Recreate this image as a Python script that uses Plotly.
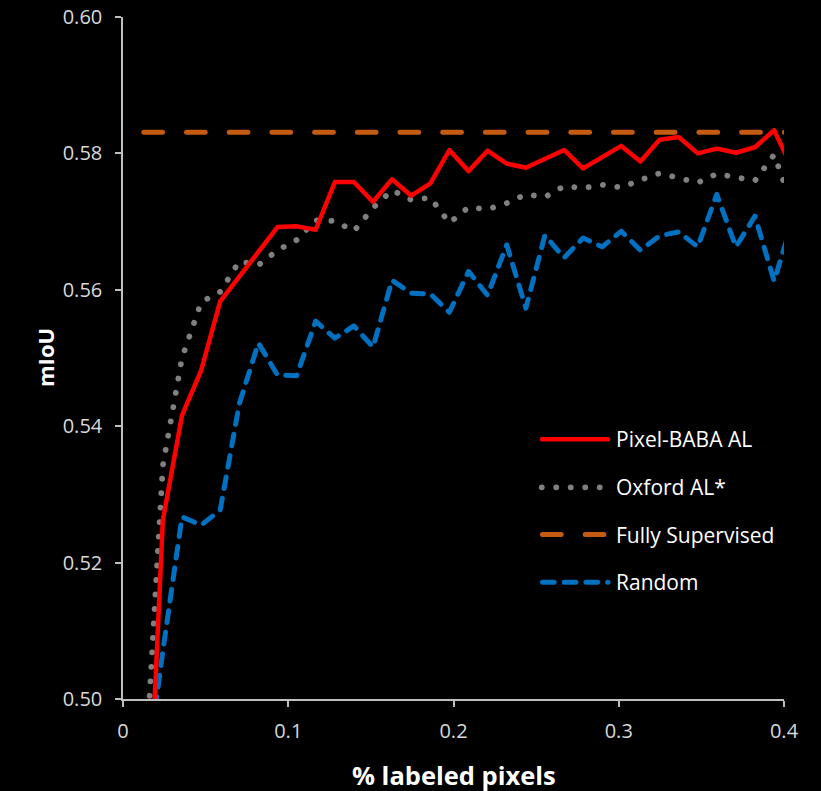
import plotly.graph_objects as go

# ---- data ----
x_frac = [0.0126, 0.0241, 0.0357, 0.0473, 0.0588, 0.0704, 0.0819, 0.0935, 0.1051, 0.1166,
          0.1282, 0.1397, 0.1513, 0.1628, 0.1744, 0.1860, 0.1975, 0.2091, 0.2206, 0.2322,
          0.2438, 0.2553, 0.2669, 0.2784, 0.2900, 0.3015, 0.3131, 0.3247, 0.3362, 0.3478,
          0.3593, 0.3709, 0.3824, 0.3940, 0.4056]

pixel_baba = [0.465, 0.5262, 0.5416, 0.5482, 0.5583, 0.5620, 0.5657, 0.5692, 0.5693, 0.5688,
              0.5758, 0.5758, 0.5729, 0.5762, 0.5738, 0.5756, 0.5805, 0.5774, 0.5804, 0.5785,
              0.5779, 0.5792, 0.5805, 0.5778, 0.5794, 0.5811, 0.5788, 0.5820, 0.5824, 0.5800,
              0.5807, 0.5801, 0.5809, 0.5834, 0.5775]

oxford = [0.4856, 0.5342, 0.5500, 0.5582, 0.5597, 0.5642, 0.5636, 0.5658, 0.5673, 0.5702,
          0.5701, 0.5686, 0.5720, 0.5746, 0.5732, 0.5735, 0.5698, 0.5721, 0.5718, 0.5727,
          0.5740, 0.5736, 0.5752, 0.5749, 0.5754, 0.5750, 0.5761, 0.5771, 0.5764, 0.5757,
          0.5770, 0.5765, 0.5760, 0.5798, 0.5720]

random_sel = [0.486, 0.507, 0.5267, 0.5255, 0.5277, 0.5433, 0.5522, 0.5475, 0.5474, 0.5554,
              0.5529, 0.5547, 0.5516, 0.5614, 0.5595, 0.5594, 0.5567, 0.5627, 0.5592, 0.5666,
              0.5573, 0.5680, 0.5647, 0.5676, 0.5663, 0.5686, 0.5658, 0.5679, 0.5685, 0.5663,
              0.5740, 0.5663, 0.5708, 0.5613, 0.5705]

fully_supervised_value = 0.5831
fully_supervised = [fully_supervised_value] * len(x_frac)

series_names = ["Pixel-BABA AL", "Oxford AL*", "Fully Supervised", "Random"]
y_ticks = [0.50, 0.52, 0.54, 0.56, 0.58, 0.60]
x_ticks = [0, 0.1, 0.2, 0.3, 0.4]
x_tick_labels = ["0", "0.1", "0.2", "0.3", "0.4"]

# ---- styles ----
RED = "#FF0000"
GREY = "#808080"
ORANGE = "#C55A11"
BLUE = "#0070C0"
FONT = "Open Sans"

styles = {
    "Pixel-BABA AL": dict(color=RED, width=4.5, dash="solid"),
    "Oxford AL*": dict(color=GREY, width=5.8, dash="0.1px,14.4px"),
    "Fully Supervised": dict(color=ORANGE, width=5, dash="18.7px,24px"),
    "Random": dict(color=BLUE, width=5, dash="11.7px,10px"),
}
values = {
    "Pixel-BABA AL": pixel_baba,
    "Oxford AL*": oxford,
    "Fully Supervised": fully_supervised,
    "Random": random_sel,
}

fig = go.Figure()
for name in ["Random", "Fully Supervised", "Oxford AL*", "Pixel-BABA AL"]:
    fig.add_trace(go.Scatter(x=x_frac, y=values[name], mode="lines", name=name,
                             line=styles[name], hoverinfo="skip", showlegend=False))

# ---- manual legend (line samples + labels) ----
W, H = 821, 791
L, R, T, B = 123, 37, 17, 92
pw, ph = W - L - R, H - T - B


def px_x(p):
    return (p - L) / pw


def px_y(p):
    return (H - B - p) / ph


legend_rows = [439.3, 487.3, 534.5, 582.3]
legend_x = {
    "Pixel-BABA AL": (542, 608),
    "Oxford AL*": (541.7, 603),
    "Fully Supervised": (542.5, 604),
    "Random": (542.5, 608),
}
for name, yy in zip(series_names, legend_rows):
    x0, x1 = legend_x[name]
    st = styles[name]
    fig.add_shape(type="line", xref="paper", yref="paper",
                  x0=px_x(x0), x1=px_x(x1), y0=px_y(yy), y1=px_y(yy),
                  line=dict(color=st["color"], width=st["width"], dash=st["dash"]))
    fig.add_annotation(text=name, xref="paper", yref="paper", x=px_x(614), y=px_y(yy),
                       xanchor="left", yanchor="middle", showarrow=False,
                       font=dict(family=FONT, size=21, color="#FFFFFF"))

# axis titles
fig.add_annotation(text="<b>% labeled pixels</b>", xref="paper", yref="paper",
                   x=0.5, y=px_y(775), xanchor="center", yanchor="middle", showarrow=False,
                   font=dict(family=FONT, size=25.5, color="#FFFFFF"))
fig.add_annotation(text="<b>mIoU</b>", xref="paper", yref="paper",
                   x=px_x(45), y=0.5, xanchor="center", yanchor="middle", showarrow=False,
                   textangle=-90, font=dict(family=FONT, size=22, color="#FFFFFF"))

axis_common = dict(showgrid=False, zeroline=False, showline=True, linecolor="#BFBFBF",
                   linewidth=1.5, ticks="outside", ticklen=6, tickcolor="#BFBFBF",
                   tickwidth=1.5, automargin=False,
                   tickfont=dict(family=FONT, size=20, color="#D9D9D9"))

fig.update_xaxes(range=[0, 0.4], tickvals=x_ticks, ticktext=x_tick_labels,
                 ticklabelstandoff=7, **axis_common)
fig.update_yaxes(range=[0.50, 0.60], tickvals=y_ticks, tickformat=".2f",
                 ticklabelstandoff=9, **axis_common)

fig.update_layout(width=W, height=H, margin=dict(l=L, r=R, t=T, b=B, autoexpand=False),
                  paper_bgcolor="#000000", plot_bgcolor="#000000",
                  font=dict(family=FONT, color="#FFFFFF"), showlegend=False)

css = ("html, body { margin: 0 !important; padding: 0 !important; background: #000; overflow: hidden; } "
       ".js-line, .shapelayer path { stroke-linecap: round !important; stroke-linejoin: round !important; }")
post = ("var s=document.createElement('style');s.textContent=" + repr(css) +
        ";document.head.appendChild(s);")

fig.write_html("out.html", post_script=post, config={"displayModeBar": False})
